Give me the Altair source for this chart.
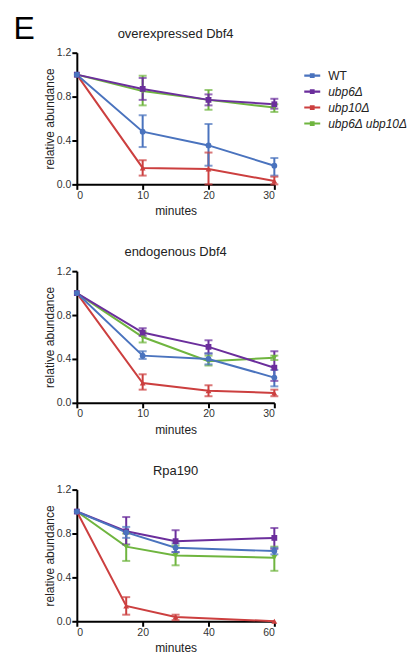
import altair as alt
import pandas as pd

series = ["WT", "ubp6Δ", "ubp10Δ", "ubp6Δ ubp10Δ"]
colors = ["#4a73be", "#6b2e9c", "#cc3f3f", "#6fb53f"]
shapes = ["circle", "square", "triangle-up", "triangle-down"]
draw_order = ["ubp6Δ ubp10Δ", "ubp10Δ", "ubp6Δ", "WT"]

# Panel 1: overexpressed Dbf4
p1_time = [0, 10, 20, 30]
p1_val = {
    "WT": [1.0, 0.48, 0.355, 0.17],
    "ubp6Δ": [1.0, 0.87, 0.77, 0.73],
    "ubp10Δ": [1.0, 0.15, 0.14, 0.03],
    "ubp6Δ ubp10Δ": [1.0, 0.85, 0.77, 0.70],
}
p1_lo = {
    "WT": [1.0, 0.34, 0.17, 0.08],
    "ubp6Δ": [1.0, 0.77, 0.72, 0.69],
    "ubp10Δ": [1.0, 0.08, 0.0, 0.0],
    "ubp6Δ ubp10Δ": [1.0, 0.72, 0.68, 0.66],
}
p1_hi = {
    "WT": [1.0, 0.63, 0.55, 0.24],
    "ubp6Δ": [1.0, 0.97, 0.82, 0.78],
    "ubp10Δ": [1.0, 0.22, 0.29, 0.07],
    "ubp6Δ ubp10Δ": [1.0, 0.99, 0.86, 0.73],
}

# Panel 2: endogenous Dbf4
p2_time = [0, 10, 20, 30]
p2_val = {
    "WT": [1.0, 0.43, 0.40, 0.23],
    "ubp6Δ": [1.0, 0.64, 0.51, 0.32],
    "ubp10Δ": [1.0, 0.18, 0.11, 0.09],
    "ubp6Δ ubp10Δ": [1.0, 0.60, 0.38, 0.41],
}
p2_lo = {
    "WT": [1.0, 0.40, 0.35, 0.15],
    "ubp6Δ": [1.0, 0.61, 0.45, 0.20],
    "ubp10Δ": [1.0, 0.12, 0.06, 0.06],
    "ubp6Δ ubp10Δ": [1.0, 0.55, 0.34, 0.39],
}
p2_hi = {
    "WT": [1.0, 0.47, 0.45, 0.30],
    "ubp6Δ": [1.0, 0.68, 0.57, 0.47],
    "ubp10Δ": [1.0, 0.26, 0.16, 0.12],
    "ubp6Δ ubp10Δ": [1.0, 0.65, 0.43, 0.43],
}

# Panel 3: Rpa190
p3_time = [0, 15, 30, 60]
p3_val = {
    "WT": [1.0, 0.81, 0.67, 0.64],
    "ubp6Δ": [1.0, 0.82, 0.73, 0.76],
    "ubp10Δ": [1.0, 0.14, 0.04, 0.0],
    "ubp6Δ ubp10Δ": [1.0, 0.68, 0.60, 0.58],
}
p3_lo = {
    "WT": [1.0, 0.76, 0.63, 0.61],
    "ubp6Δ": [1.0, 0.70, 0.63, 0.66],
    "ubp10Δ": [1.0, 0.06, 0.01, 0.0],
    "ubp6Δ ubp10Δ": [1.0, 0.55, 0.51, 0.46],
}
p3_hi = {
    "WT": [1.0, 0.86, 0.71, 0.67],
    "ubp6Δ": [1.0, 0.95, 0.83, 0.85],
    "ubp10Δ": [1.0, 0.22, 0.06, 0.0],
    "ubp6Δ ubp10Δ": [1.0, 0.80, 0.69, 0.68],
}


def make_df(times, val, lo, hi):
    rows = []
    for k, s in enumerate(draw_order):
        for i, t in enumerate(times):
            rows.append({"series": s, "order": k, "t": t, "v": val[s][i],
                         "lo": lo[s][i], "hi": hi[s][i]})
    return pd.DataFrame(rows)


FONT = "Liberation Sans"
legend_path = ("M-1,-0.13L1,-0.13L1,0.13L-1,0.13Z "
               "M-0.3,-0.3L0.3,-0.3L0.3,0.3L-0.3,0.3Z")

color_enc = alt.Color(
    "series:N",
    scale=alt.Scale(domain=series, range=colors),
    legend=alt.Legend(
        title=None, orient="none", legendX=228, legendY=15,
        symbolType=legend_path, symbolSize=256, symbolStrokeWidth=0,
        symbolOpacity=1,
        labelFont=FONT, labelFontSize=12, labelColor="#222",
        rowPadding=2, labelOffset=8,
        labelFontStyle=alt.ExprRef(expr="datum.label == 'WT' ? 'normal' : 'italic'"),
    ),
)


def panel(df, title, xmax, xticks):
    x = alt.X("t:Q", scale=alt.Scale(domain=[0, xmax], nice=False),
              axis=alt.Axis(values=xticks, title="minutes", format="d"))
    y = alt.Y("v:Q", scale=alt.Scale(domain=[0, 1.2], nice=False),
              axis=alt.Axis(values=[0, 0.4, 0.8, 1.2], format=".1f",
                            title="relative abundance"))
    base = alt.Chart(df)
    lines = base.mark_line(strokeWidth=2).encode(
        x=x, y=y, color=color_enc, order="t:Q", detail="order:O")
    err = base.transform_filter("datum.hi > datum.lo")
    rules = err.mark_rule(strokeWidth=2).encode(
        x=x, y=alt.Y("lo:Q"), y2="hi:Q", color=color_enc)
    cap_lo = err.mark_tick(orient="horizontal", size=8, thickness=2).encode(
        x=x, y=alt.Y("lo:Q"), color=color_enc)
    cap_hi = err.mark_tick(orient="horizontal", size=8, thickness=2).encode(
        x=x, y=alt.Y("hi:Q"), color=color_enc)
    layers = [lines, rules, cap_lo, cap_hi]
    for s in draw_order:
        i = series.index(s)
        layers.append(
            base.transform_filter(alt.datum.series == s)
            .mark_point(filled=True, size=34, opacity=1, strokeWidth=0,
                        shape=shapes[i], color=colors[i])
            .encode(x=x, y=y)
        )
    return alt.layer(*layers).properties(width=198, height=132, title=title)


c1 = panel(make_df(p1_time, p1_val, p1_lo, p1_hi), "overexpressed Dbf4", 30, [0, 10, 20, 30])
c2 = panel(make_df(p2_time, p2_val, p2_lo, p2_hi), "endogenous Dbf4", 30, [0, 10, 20, 30])
c3 = panel(make_df(p3_time, p3_val, p3_lo, p3_hi), "Rpa190", 60, [0, 20, 40, 60])

chart = alt.vconcat(c1, c2, c3, spacing=29).properties(
    title=alt.TitleParams("E", anchor="start", fontSize=32, fontWeight="normal",
                          font=FONT, color="#000", dx=-30, offset=-18),
    padding={"left": 5, "top": 4, "right": 0, "bottom": 0},
    background="white",
).configure_view(stroke=None).configure_axis(
    grid=False, domainColor="#000", domainWidth=2, tickColor="#000", tickWidth=2,
    tickSize=5, labelFont=FONT, labelFontSize=10.5, labelColor="#333",
    titleFont=FONT, titleFontSize=12, titleFontWeight="normal", titleColor="#222",
    labelPadding=1,
).configure_axisX(titlePadding=5).configure_axisY(titlePadding=0).configure_title(
    font=FONT, fontSize=13, fontWeight="normal", color="#222", offset=7
)

chart.save("out.html", embed_options={"renderer": "svg", "actions": False})
